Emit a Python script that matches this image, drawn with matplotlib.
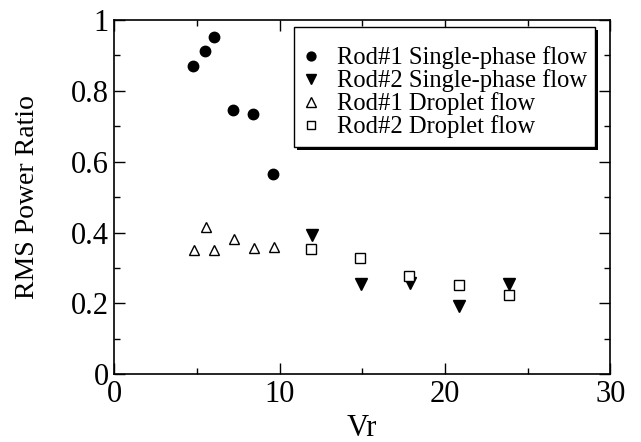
import matplotlib
matplotlib.use("Agg")
import matplotlib.pyplot as plt
from matplotlib.ticker import MultipleLocator
from matplotlib.patches import Rectangle

plt.rcParams['font.family'] = ['Liberation Serif', 'DejaVu Serif']
plt.rcParams['mathtext.fontset'] = 'stix'

# Data
rod1_single_x = [4.78, 5.50, 6.01, 7.18, 8.39, 9.60]
rod1_single_y = [0.870, 0.912, 0.952, 0.745, 0.736, 0.565]

rod2_single_x = [11.94, 14.90, 17.89, 20.87, 23.86]
rod2_single_y = [0.393, 0.255, 0.259, 0.193, 0.255]

rod1_drop_x = [4.82, 5.57, 6.01, 7.22, 8.43, 9.64]
rod1_drop_y = [0.351, 0.416, 0.351, 0.381, 0.356, 0.360]

rod2_drop_x = [11.88, 14.86, 17.85, 20.83, 23.86]
rod2_drop_y = [0.353, 0.328, 0.278, 0.251, 0.224]

labels = ["Rod#1 Single-phase flow", "Rod#2 Single-phase flow",
          "Rod#1 Droplet flow", "Rod#2 Droplet flow"]

fig = plt.figure(figsize=(6.41, 4.42), dpi=100)
ax = fig.add_axes([0.1783, 0.1532, 0.7737, 0.8016])

ax.plot(rod1_single_x, rod1_single_y, linestyle='none', marker='o', ms=7.5,
        color='black', label=labels[0])
ax.plot(rod2_single_x, rod2_single_y, linestyle='none', marker='v', ms=8,
        color='black', label=labels[1])
ax.plot(rod1_drop_x, rod1_drop_y, linestyle='none', marker='^', ms=7.7,
        mfc='white', mec='black', mew=1.0, label=labels[2])
ax.plot(rod2_drop_x, rod2_drop_y, linestyle='none', marker='s', ms=6.8,
        mfc='white', mec='black', mew=1.0, label=labels[3])

ax.set_xlim(0, 30)
ax.set_ylim(0, 1)
ax.xaxis.set_major_locator(MultipleLocator(10))
ax.xaxis.set_minor_locator(MultipleLocator(5))
ax.yaxis.set_minor_locator(MultipleLocator(0.1))
ax.set_yticks([0, 0.2, 0.4, 0.6, 0.8, 1.0])
ax.set_yticklabels(['0', '0.2', '0.4', '0.6', '0.8', '1'])

ax.tick_params(which='both', direction='in', top=True, right=True,
               labelsize=22, width=1.0, colors='black')
ax.tick_params(which='major', length=8, pad=4)
ax.tick_params(which='minor', length=4)
for s in ax.spines.values():
    s.set_linewidth(1.2)

ax.set_xlabel('Vr', fontsize=22, labelpad=4)
ax.set_ylabel('RMS Power Ratio', fontsize=20, labelpad=22)

# legend box with black drop shadow
box_x0, box_y0, box_w, box_h = 0.3623, 0.6424, 0.6068, 0.3387
shadow = Rectangle((box_x0 + 0.006, box_y0 - 0.0085), box_w, box_h,
                   transform=ax.transAxes, facecolor='black', edgecolor='none',
                   zorder=4, clip_on=False)
frame = Rectangle((box_x0, box_y0), box_w, box_h, transform=ax.transAxes,
                  facecolor='white', edgecolor='black', linewidth=1.0,
                  zorder=4.1, clip_on=False)
ax.add_patch(shadow)
ax.add_patch(frame)

leg = ax.legend(loc='upper right', bbox_to_anchor=(0.969, 0.9464),
                borderaxespad=0, fontsize=17.7, frameon=False,
                handlelength=0.8, handletextpad=0.66, borderpad=0.3,
                labelspacing=0.0, markerscale=0.85)
leg.set_zorder(5)

fig.savefig('out.png', dpi=100)
